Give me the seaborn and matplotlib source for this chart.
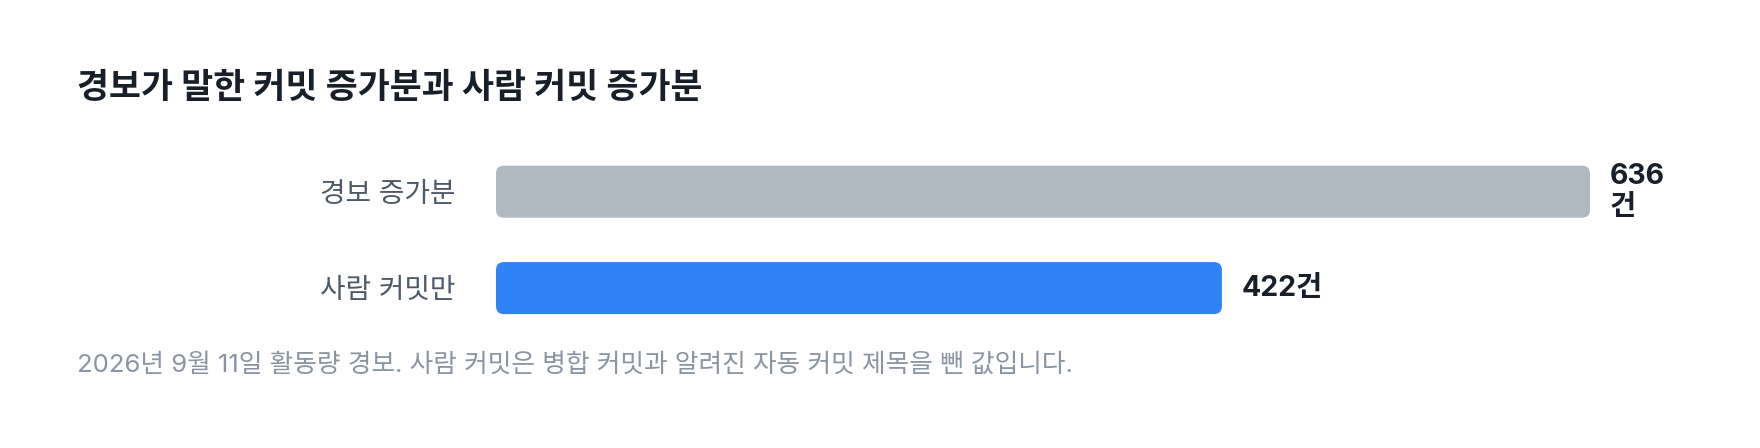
import matplotlib
matplotlib.use("Agg")
import matplotlib.pyplot as plt
import seaborn as sns
import pandas as pd
from matplotlib.patches import FancyBboxPatch

categories = ["경보 증가분", "사람 커밋만"]
values = [636, 422]
unit = "건"
bar_colors = ["#b0b8c1", "#3182f6"]
title = "경보가 말한 커밋 증가분과 사람 커밋 증가분"
footnote = "2026년 9월 11일 활동량 경보. 사람 커밋은 병합 커밋과 알려진 자동 커밋 제목을 뺀 값입니다."

sns.set_theme(style="white")
FONT = ["Inter", "Noto Sans CJK KR", "DejaVu Sans"]
plt.rcParams["font.family"] = FONT

W, H = 1760, 448
fig = plt.figure(figsize=(W / 100, H / 100), dpi=100)
fig.patch.set_facecolor("white")

# axes placement in pixels
ax_left, ax_right = 496, 1590
ax_top, ax_bottom = 143.5, 336.3
ax = fig.add_axes([ax_left / W, 1 - ax_bottom / H, (ax_right - ax_left) / W, (ax_bottom - ax_top) / H])

df = pd.DataFrame({"category": categories, "value": values})
sns.barplot(data=df, x="value", y="category", hue="category", palette=bar_colors,
            orient="h", width=0.54, legend=False, ax=ax, saturation=1)

ax.set_xlim(0, max(values))
ax.set_ylim(1.5, -0.5)

# replace rectangles by rounded boxes
px_per_x = (ax_right - ax_left) / max(values)
px_per_y = (ax_bottom - ax_top) / 2.0
radius_px = 8
for p in list(ax.patches):
    x0, y0 = p.get_x(), p.get_y()
    w, h = p.get_width(), p.get_height()
    fc = p.get_facecolor()
    p.remove()
    fb = FancyBboxPatch((x0, y0), w, h,
                        boxstyle=f"round,pad=0,rounding_size={radius_px / px_per_x}",
                        mutation_aspect=px_per_x / px_per_y,
                        facecolor=fc, edgecolor="none", clip_on=False)
    ax.add_patch(fb)

for i, v in enumerate(values):
    label = f"{v}{unit}"
    if v == max(values):
        label = f"{v}\n{unit}"
    ax.annotate(label, xy=(v, i), xytext=(20, 0), textcoords="offset pixels",
                ha="left", va="center", fontsize=20.5, fontweight="bold",
                color="#191f28", linespacing=1.2, family=FONT, annotation_clip=False)

ax.set_xlabel("")
ax.set_ylabel("")
ax.set_xticks([])
ax.tick_params(axis="y", length=0, pad=(ax_left - 455) * 0.72, labelsize=20, labelcolor="#4e5968")
for t in ax.get_yticklabels():
    t.set_family(FONT)
for s in ax.spines.values():
    s.set_visible(False)
ax.set_facecolor("none")

fig.text(77 / W, 1 - 89 / H, title, ha="left", va="center", fontsize=25,
         fontweight="bold", color="#191f28", family=FONT)
fig.text(77 / W, 1 - 365 / H, footnote, ha="left", va="center", fontsize=18.5,
         color="#8b95a1", family=FONT)

fig.savefig("out.png", dpi=100, facecolor="white")
